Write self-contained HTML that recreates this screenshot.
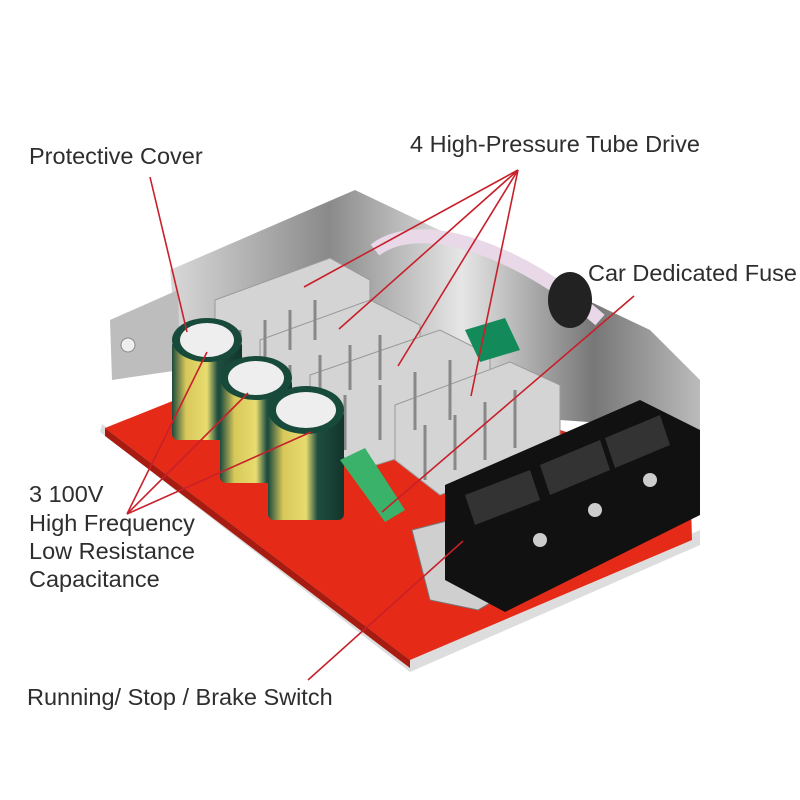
<!DOCTYPE html>
<html><head><meta charset="utf-8"><style>
html,body{margin:0;padding:0;background:#fff;width:800px;height:800px;overflow:hidden}
svg{display:block}
text{font-family:"Liberation Sans",sans-serif;fill:#2e2e2e;font-size:23.5px}
</style></head><body>
<svg width="800" height="800" viewBox="0 0 800 800">
<defs>
<linearGradient id="steel" x1="0" y1="0" x2="1" y2="0">
<stop offset="0" stop-color="#d8d8d8"/><stop offset=".3" stop-color="#8a8a8a"/><stop offset=".55" stop-color="#e6e6e6"/><stop offset=".8" stop-color="#777"/><stop offset="1" stop-color="#bbb"/></linearGradient>
<linearGradient id="cap" x1="0" y1="0" x2="1" y2="0">
<stop offset="0" stop-color="#1c4a3c"/><stop offset=".2" stop-color="#d8c85a"/><stop offset=".5" stop-color="#e8dc70"/><stop offset=".65" stop-color="#1e4e40"/><stop offset="1" stop-color="#12352b"/></linearGradient>
</defs>
<polygon points="100,432 410,672 700,545 700,530 410,655 102,424" fill="#ddd"/>
<polygon points="170,270 355,190 650,330 700,380 700,430 560,420 180,380" fill="url(#steel)"/>
<polygon points="110,320 178,290 180,370 112,380" fill="#bdbdbd"/>
<circle cx="128" cy="345" r="7" fill="#eee" stroke="#888"/>
<polygon points="105,428 300,350 690,470 692,540 410,660" fill="#e52a17"/>
<polygon points="105,428 410,660 410,668 105,436" fill="#a81b10"/>
<g fill="#d4d4d4" stroke="#999" stroke-width="1">
<polygon points="215,300 330,258 370,280 370,350 260,390 215,350"/>
<polygon points="260,340 370,300 420,325 420,390 310,430 260,390"/>
<polygon points="310,375 440,330 490,355 490,430 360,470 310,430"/>
<polygon points="395,405 510,362 560,385 560,450 440,495 395,460"/>
</g>
<g stroke="#888" stroke-width="3">
<line x1="240" y1="330" x2="240" y2="370"/><line x1="265" y1="320" x2="265" y2="360"/><line x1="290" y1="310" x2="290" y2="350"/><line x1="315" y1="300" x2="315" y2="340"/>
<line x1="290" y1="365" x2="290" y2="410"/><line x1="320" y1="355" x2="320" y2="400"/><line x1="350" y1="345" x2="350" y2="390"/><line x1="380" y1="335" x2="380" y2="380"/>
<line x1="345" y1="395" x2="345" y2="450"/><line x1="380" y1="385" x2="380" y2="440"/><line x1="415" y1="372" x2="415" y2="430"/><line x1="450" y1="360" x2="450" y2="420"/>
<line x1="425" y1="425" x2="425" y2="480"/><line x1="455" y1="415" x2="455" y2="470"/><line x1="485" y1="402" x2="485" y2="460"/><line x1="515" y1="390" x2="515" y2="448"/>
</g>
<path d="M375,250 C420,215 520,250 600,320" stroke="#e8d8e8" stroke-width="14" fill="none"/>
<ellipse cx="570" cy="300" rx="22" ry="28" fill="#222"/>
<polygon points="465,330 505,318 520,350 480,362" fill="#138a5a"/>
<g>
<rect x="172" y="340" width="70" height="100" rx="6" fill="url(#cap)"/>
<ellipse cx="207" cy="340" rx="35" ry="22" fill="#174a3a"/><ellipse cx="207" cy="340" rx="27" ry="17" fill="#eee"/>
<rect x="220" y="378" width="72" height="105" rx="6" fill="url(#cap)"/>
<ellipse cx="256" cy="378" rx="36" ry="22" fill="#174a3a"/><ellipse cx="256" cy="378" rx="28" ry="17" fill="#eee"/>
<rect x="268" y="410" width="76" height="110" rx="6" fill="url(#cap)"/>
<ellipse cx="306" cy="410" rx="38" ry="24" fill="#174a3a"/><ellipse cx="306" cy="410" rx="30" ry="18" fill="#eee"/>
</g>
<polygon points="340,460 365,448 405,510 385,522" fill="#3ab26a"/>
<polygon points="412,530 470,515 495,600 478,610 430,600" fill="#cfcfcf" stroke="#777"/>
<rect x="455" y="532" width="12" height="28" fill="#222"/>
<polygon points="445,485 640,400 700,430 700,515 505,612 445,580" fill="#111"/>
<g fill="#333">
<polygon points="465,495 530,470 540,500 475,525"/><polygon points="540,465 600,440 610,470 550,495"/><polygon points="605,438 660,415 670,445 615,468"/>
</g>
<g fill="#ccc"><circle cx="540" cy="540" r="7"/><circle cx="595" cy="510" r="7"/><circle cx="650" cy="480" r="7"/></g>
<g stroke="#c8202a" stroke-width="1.6">
<line x1="150" y1="177" x2="187" y2="332"/>
<line x1="518" y1="170" x2="304" y2="287"/><line x1="518" y1="170" x2="339" y2="329"/><line x1="518" y1="170" x2="398" y2="366"/><line x1="518" y1="170" x2="471" y2="396"/>
<line x1="634" y1="296" x2="382" y2="512"/>
<line x1="127" y1="514" x2="207" y2="352"/><line x1="127" y1="514" x2="248" y2="393"/><line x1="127" y1="514" x2="311" y2="432"/>
<line x1="308" y1="680" x2="463" y2="541"/>
</g>
<text x="29" y="164">Protective Cover</text>
<text x="410" y="152">4 High-Pressure Tube Drive</text>
<text x="588" y="281">Car Dedicated Fuse</text>
<text x="29" y="502">3 100V</text>
<text x="29" y="531">High Frequency</text>
<text x="29" y="559">Low Resistance</text>
<text x="29" y="587">Capacitance</text>
<text x="27" y="705">Running/ Stop / Brake Switch</text>
</svg>
</body></html>
